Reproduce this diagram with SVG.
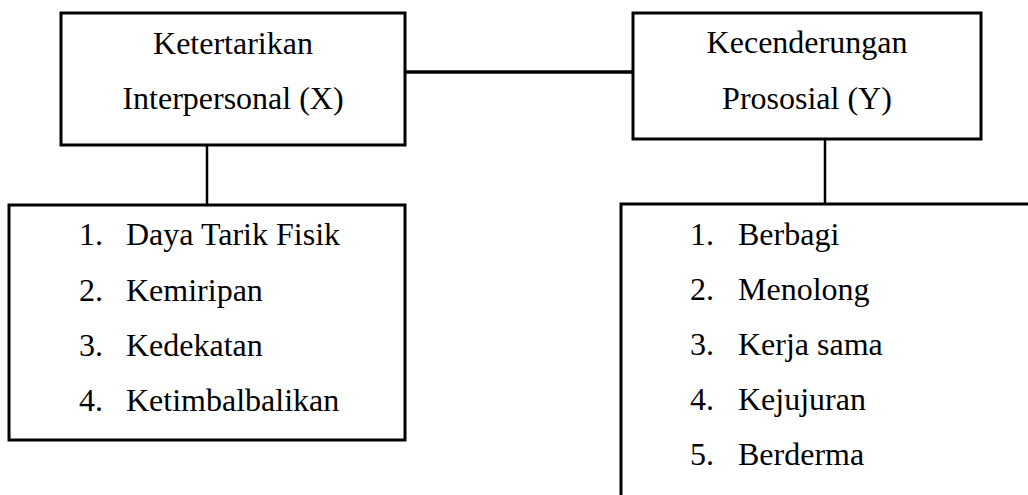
<svg xmlns="http://www.w3.org/2000/svg" width="1028" height="495" viewBox="0 0 1028 495">
<style>
.box{fill:#fff;stroke:#000;stroke-width:3}
.ln{stroke:#000;fill:none}
.t{font-family:"Liberation Serif","Times New Roman",serif;font-size:32px;fill:#000}
.c{text-anchor:middle}
</style>
<rect width="1028" height="495" fill="#fff"/>
<g id="connectors">
<line class="ln" x1="405" y1="72" x2="633" y2="72" stroke-width="3.5"/>
<line class="ln" x1="207" y1="145" x2="207" y2="205" stroke-width="2.5"/>
<line class="ln" x1="825" y1="139" x2="825" y2="204" stroke-width="2.5"/>
</g>
<g id="nodeX">
<rect class="box" x="61" y="13" width="344" height="132"/>
<text class="t c" x="233" y="54">Ketertarikan</text>
<text class="t c" x="233" y="109">Interpersonal (X)</text>
</g>
<g id="nodeY">
<rect class="box" x="633" y="13" width="348" height="126"/>
<text class="t c" x="807" y="53">Kecenderungan</text>
<text class="t c" x="807" y="109">Prososial (Y)</text>
</g>
<g id="indikatorX">
<rect class="box" x="9" y="205" width="396" height="235"/>
<text class="t" x="79" y="245">1.</text><text class="t" x="126" y="245">Daya Tarik Fisik</text>
<text class="t" x="79" y="301">2.</text><text class="t" x="126" y="301">Kemiripan</text>
<text class="t" x="79" y="356">3.</text><text class="t" x="126" y="356">Kedekatan</text>
<text class="t" x="79" y="411">4.</text><text class="t" x="126" y="411">Ketimbalbalikan</text>
</g>
<g id="indikatorY">
<rect class="box" x="621" y="204" width="420" height="310"/>
<text class="t" x="690" y="245">1.</text><text class="t" x="738" y="245">Berbagi</text>
<text class="t" x="690" y="300">2.</text><text class="t" x="738" y="300">Menolong</text>
<text class="t" x="690" y="355">3.</text><text class="t" x="738" y="355">Kerja sama</text>
<text class="t" x="690" y="410">4.</text><text class="t" x="738" y="410">Kejujuran</text>
<text class="t" x="690" y="465">5.</text><text class="t" x="738" y="465">Berderma</text>
</g>
</svg>
